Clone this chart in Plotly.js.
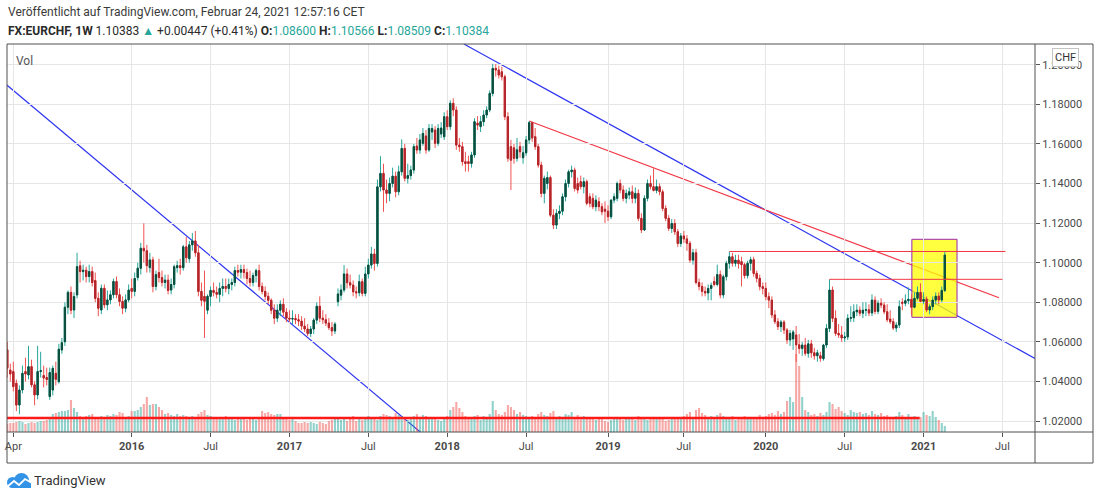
<!DOCTYPE html>
<html><head><meta charset="utf-8">
<script src="https://cdn.plot.ly/plotly-3.0.1.min.js"></script>
<style>html,body{margin:0;padding:0;background:#fff;}#chart{width:1100px;height:499px;}</style>
</head><body><div id="chart"></div>
<script>
// ---- data: weekly EURCHF candles, first bar = week of 2015-03-23 ----
const firstWeek = [2015, 2, 23];
const open = [
1.0560,1.0458,1.0450,1.0391,1.0281,1.0357,1.0450,1.0433,1.0475,1.0383,
1.0332,1.0450,1.0430,1.0420,1.0324,1.0357,1.0441,1.0399,1.0559,1.0601,
1.0775,1.0850,1.0761,1.0837,1.0984,1.0955,1.0962,1.0930,1.0955,1.0910,
1.0820,1.0761,1.0871,1.0787,1.0812,1.0838,1.0905,1.0838,1.0804,1.0770,
1.0812,1.0870,1.0855,1.0925,1.0972,1.1073,1.1060,1.0975,1.1014,1.0880,
1.0950,1.0925,1.0900,1.0912,1.0862,1.0890,1.0975,1.0985,1.0975,1.1080,
1.1020,1.1090,1.1110,1.1050,1.0855,1.0830,1.0760,1.0830,1.0860,1.0850,
1.0840,1.0870,1.0880,1.0870,1.0890,1.0900,1.0960,1.0952,1.0965,1.0950,
1.0920,1.0900,1.0935,1.0960,1.0880,1.0855,1.0830,1.0810,1.0760,1.0720,
1.0760,1.0790,1.0750,1.0720,1.0715,1.0718,1.0712,1.0705,1.0680,1.0665,
1.0642,1.0665,1.0710,1.0780,1.0720,1.0712,1.0695,1.0672,1.0655,1.0803,
1.0836,1.0862,1.0943,1.0899,1.0887,1.0853,1.0848,1.0904,1.0845,1.0943,
1.0988,1.1044,1.0996,1.1383,1.1451,1.1367,1.1350,1.1400,1.1437,1.1358,
1.1459,1.1577,1.1426,1.1440,1.1468,1.1589,1.1569,1.1603,1.1640,1.1569,
1.1660,1.1670,1.1603,1.1650,1.1636,1.1737,1.1687,1.1805,1.1771,1.1594,
1.1586,1.1510,1.1510,1.1501,1.1544,1.1704,1.1687,1.1712,1.1746,1.1771,
1.1855,1.1981,1.1973,1.1964,1.1939,1.1737,1.1586,1.1580,1.1527,1.1586,
1.1530,1.1555,1.1620,1.1707,1.1636,1.1586,1.1493,1.1350,1.1400,1.1430,
1.1240,1.1190,1.1249,1.1260,1.1333,1.1400,1.1459,1.1468,1.1400,1.1409,
1.1384,1.1409,1.1333,1.1325,1.1283,1.1308,1.1283,1.1270,1.1260,1.1232,
1.1316,1.1325,1.1400,1.1367,1.1325,1.1342,1.1358,1.1325,1.1350,1.1224,
1.1165,1.1325,1.1400,1.1384,1.1365,1.1384,1.1358,1.1274,1.1224,1.1173,
1.1198,1.1156,1.1097,1.1135,1.1120,1.1098,1.1013,1.1050,1.0900,1.0880,
1.0855,1.0847,1.0870,1.0905,1.0890,1.0940,1.0837,1.0929,1.0997,1.1030,
1.0997,1.1013,1.1005,1.0990,1.0935,1.0997,1.1015,1.0946,1.0921,1.0879,
1.0870,1.0828,1.0811,1.0736,1.0702,1.0677,1.0700,1.0660,1.0610,1.0615,
1.0635,1.0585,1.0567,1.0584,1.0542,1.0590,1.0545,1.0530,1.0530,1.0515,
1.0584,1.0668,1.0862,1.0719,1.0643,1.0635,1.0620,1.0625,1.0719,1.0722,
1.0752,1.0760,1.0745,1.0760,1.0762,1.0746,1.0811,1.0754,1.0795,1.0786,
1.0752,1.0715,1.0702,1.0670,1.0685,1.0800,1.0795,1.0808,1.0815,1.0775,
1.0820,1.0850,1.0805,1.0815,1.0761,1.0778,1.0811,1.0831,1.0812,1.0860];
const high = [
1.0600,1.0490,1.0500,1.0410,1.0380,1.0480,1.0520,1.0580,1.0510,1.0400,
1.0580,1.0550,1.0480,1.0470,1.0470,1.0480,1.0500,1.0590,1.0620,1.0800,
1.0860,1.0880,1.0850,1.1050,1.1010,1.0990,1.0980,1.0990,1.0980,1.0950,
1.0850,1.0890,1.0890,1.0860,1.0860,1.0920,1.0930,1.0870,1.0830,1.0840,
1.0890,1.0920,1.0950,1.1000,1.1100,1.1199,1.1090,1.1050,1.1030,1.0960,
1.1020,1.0960,1.0940,1.0940,1.0920,1.0990,1.1010,1.1020,1.1090,1.1130,
1.1110,1.1150,1.1160,1.1090,1.0900,1.0960,1.0840,1.0880,1.0900,1.0880,
1.0900,1.0920,1.0920,1.0920,1.0920,1.0980,1.0990,1.0990,1.0990,1.0970,
1.0960,1.0950,1.0970,1.0990,1.0900,1.0880,1.0850,1.0820,1.0790,1.0790,
1.0810,1.0820,1.0770,1.0760,1.0760,1.0740,1.0740,1.0730,1.0720,1.0690,
1.0680,1.0720,1.0800,1.0830,1.0760,1.0740,1.0720,1.0700,1.0700,1.0870,
1.0890,1.0988,1.0970,1.0940,1.0910,1.0880,1.0940,1.0920,1.0980,1.1020,
1.1080,1.1070,1.1420,1.1538,1.1500,1.1420,1.1430,1.1480,1.1460,1.1490,
1.1623,1.1600,1.1500,1.1490,1.1600,1.1630,1.1650,1.1680,1.1670,1.1700,
1.1700,1.1690,1.1700,1.1710,1.1760,1.1770,1.1820,1.1830,1.1790,1.1630,
1.1610,1.1560,1.1540,1.1560,1.1730,1.1740,1.1740,1.1770,1.1790,1.1870,
1.2005,1.2003,1.1995,1.1990,1.1950,1.1760,1.1620,1.1600,1.1630,1.1610,
1.1590,1.1640,1.1715,1.1712,1.1680,1.1600,1.1510,1.1440,1.1460,1.1440,
1.1270,1.1270,1.1290,1.1350,1.1420,1.1470,1.1490,1.1480,1.1430,1.1440,
1.1430,1.1420,1.1350,1.1350,1.1340,1.1330,1.1300,1.1310,1.1290,1.1320,
1.1350,1.1410,1.1420,1.1390,1.1370,1.1380,1.1390,1.1380,1.1370,1.1250,
1.1340,1.1420,1.1440,1.1476,1.1420,1.1400,1.1370,1.1290,1.1240,1.1220,
1.1220,1.1170,1.1150,1.1160,1.1140,1.1110,1.1070,1.1070,1.0920,1.0900,
1.0880,1.0890,1.0900,1.0930,1.0990,1.0960,1.0940,1.1010,1.1056,1.1050,
1.1040,1.1040,1.1030,1.1000,1.1010,1.1030,1.1030,1.0960,1.0940,1.0900,
1.0900,1.0850,1.0830,1.0760,1.0720,1.0710,1.0710,1.0670,1.0660,1.0660,
1.0680,1.0640,1.0600,1.0620,1.0610,1.0610,1.0570,1.0560,1.0550,1.0590,
1.0690,1.0916,1.0880,1.0760,1.0690,1.0680,1.0650,1.0740,1.0780,1.0790,
1.0790,1.0780,1.0800,1.0800,1.0790,1.0840,1.0830,1.0810,1.0820,1.0800,
1.0790,1.0760,1.0720,1.0700,1.0810,1.0820,1.0840,1.0875,1.0840,1.0850,
1.0880,1.0896,1.0850,1.0830,1.0790,1.0830,1.0850,1.0850,1.0880,1.10566];
const low = [
1.0420,1.0400,1.0350,1.0250,1.0235,1.0340,1.0400,1.0410,1.0370,1.0280,
1.0310,1.0420,1.0370,1.0380,1.0307,1.0330,1.0380,1.0390,1.0540,1.0580,
1.0740,1.0740,1.0720,1.0820,1.0900,1.0910,1.0900,1.0900,1.0880,1.0800,
1.0730,1.0740,1.0770,1.0760,1.0790,1.0820,1.0820,1.0780,1.0740,1.0750,
1.0800,1.0820,1.0830,1.0910,1.0940,1.1000,1.0950,1.0950,1.0850,1.0860,
1.0900,1.0880,1.0870,1.0840,1.0840,1.0870,1.0950,1.0940,1.0960,1.1000,
1.1000,1.1060,1.1030,1.0830,1.0780,1.0620,1.0740,1.0780,1.0830,1.0820,
1.0800,1.0830,1.0850,1.0840,1.0860,1.0880,1.0930,1.0920,1.0920,1.0890,
1.0880,1.0880,1.0900,1.0860,1.0840,1.0810,1.0790,1.0740,1.0690,1.0700,
1.0730,1.0730,1.0700,1.0700,1.0690,1.0690,1.0680,1.0660,1.0650,1.0630,
1.0625,1.0640,1.0690,1.0700,1.0690,1.0680,1.0660,1.0630,1.0640,1.0780,
1.0810,1.0850,1.0870,1.0870,1.0830,1.0820,1.0830,1.0830,1.0830,1.0920,
1.0970,1.0960,1.0980,1.1360,1.1257,1.1300,1.1310,1.1380,1.1330,1.1340,
1.1440,1.1410,1.1400,1.1420,1.1450,1.1550,1.1550,1.1590,1.1550,1.1560,
1.1620,1.1580,1.1590,1.1630,1.1620,1.1670,1.1670,1.1740,1.1570,1.1560,
1.1490,1.1460,1.1460,1.1480,1.1530,1.1670,1.1660,1.1690,1.1730,1.1760,
1.1840,1.1940,1.1930,1.1920,1.1720,1.1510,1.1367,1.1500,1.1510,1.1530,
1.1500,1.1540,1.1600,1.1610,1.1570,1.1480,1.1330,1.1300,1.1370,1.1230,
1.1170,1.1170,1.1220,1.1240,1.1310,1.1380,1.1430,1.1360,1.1350,1.1370,
1.1350,1.1290,1.1280,1.1270,1.1260,1.1260,1.1240,1.1200,1.1210,1.1220,
1.1300,1.1310,1.1350,1.1310,1.1300,1.1320,1.1300,1.1300,1.1210,1.1150,
1.1160,1.1310,1.1370,1.1360,1.1350,1.1340,1.1260,1.1210,1.1160,1.1150,
1.1140,1.1080,1.1080,1.1100,1.1060,1.1000,1.0990,1.0890,1.0860,1.0830,
1.0830,1.0810,1.0810,1.0880,1.0880,1.0820,1.0820,1.0910,1.0970,1.0980,
1.0980,1.0970,1.0880,1.0920,1.0920,1.0960,1.0930,1.0900,1.0860,1.0840,
1.0810,1.0770,1.0720,1.0690,1.0660,1.0650,1.0640,1.0590,1.0580,1.0560,
1.0500,1.0540,1.0530,1.0530,1.0520,1.0520,1.0510,1.0500,1.0500,1.0505,
1.0570,1.0650,1.0700,1.0630,1.0620,1.0600,1.0600,1.0610,1.0700,1.0700,
1.0730,1.0730,1.0720,1.0730,1.0730,1.0730,1.0740,1.0740,1.0770,1.0740,
1.0700,1.0690,1.0660,1.0650,1.0670,1.0760,1.0780,1.0790,1.0735,1.0770,
1.0810,1.0800,1.0790,1.0750,1.0740,1.0760,1.0790,1.0790,1.0800,1.08509];
const close = [
1.0467,1.0438,1.0374,1.0281,1.0357,1.0441,1.0438,1.0475,1.0383,1.0332,
1.0450,1.0455,1.0418,1.0410,1.0445,1.0466,1.0411,1.0563,1.0596,1.0775,
1.0850,1.0760,1.0829,1.0980,1.0955,1.0962,1.0930,1.0955,1.0900,1.0820,
1.0770,1.0871,1.0787,1.0812,1.0838,1.0905,1.0838,1.0804,1.0770,1.0812,
1.0862,1.0855,1.0920,1.0972,1.1073,1.1060,1.0985,1.1014,1.0880,1.0940,
1.0925,1.0900,1.0912,1.0860,1.0890,1.0980,1.0985,1.0975,1.1080,1.1025,
1.1090,1.1110,1.1050,1.0855,1.0810,1.0805,1.0830,1.0860,1.0850,1.0840,
1.0870,1.0880,1.0870,1.0890,1.0900,1.0960,1.0952,1.0965,1.0950,1.0920,
1.0900,1.0935,1.0960,1.0880,1.0855,1.0830,1.0810,1.0760,1.0720,1.0760,
1.0790,1.0750,1.0720,1.0715,1.0718,1.0712,1.0705,1.0680,1.0665,1.0642,
1.0665,1.0710,1.0780,1.0720,1.0712,1.0695,1.0672,1.0655,1.0690,1.0842,
1.0862,1.0943,1.0899,1.0887,1.0853,1.0848,1.0904,1.0845,1.0943,1.0988,
1.1044,1.0996,1.1383,1.1451,1.1367,1.1350,1.1400,1.1437,1.1358,1.1459,
1.1577,1.1426,1.1440,1.1468,1.1586,1.1569,1.1620,1.1653,1.1569,1.1678,
1.1678,1.1603,1.1678,1.1680,1.1737,1.1687,1.1805,1.1771,1.1594,1.1586,
1.1510,1.1501,1.1501,1.1544,1.1712,1.1695,1.1712,1.1746,1.1771,1.1855,
1.1981,1.1973,1.1948,1.1939,1.1737,1.1527,1.1518,1.1527,1.1570,1.1560,
1.1555,1.1620,1.1707,1.1630,1.1586,1.1493,1.1350,1.1426,1.1430,1.1240,
1.1190,1.1249,1.1260,1.1333,1.1400,1.1459,1.1468,1.1375,1.1367,1.1384,
1.1409,1.1300,1.1300,1.1283,1.1316,1.1283,1.1257,1.1260,1.1232,1.1316,
1.1333,1.1400,1.1367,1.1325,1.1350,1.1358,1.1325,1.1350,1.1224,1.1165,
1.1325,1.1400,1.1384,1.1365,1.1384,1.1358,1.1274,1.1224,1.1173,1.1198,
1.1156,1.1097,1.1135,1.1120,1.1098,1.1013,1.1050,1.0900,1.0880,1.0855,
1.0847,1.0870,1.0885,1.0890,1.0940,1.0837,1.0929,1.0997,1.1030,1.0997,
1.1013,1.0995,1.0990,1.0935,1.0997,1.1015,1.0946,1.0921,1.0879,1.0870,
1.0828,1.0811,1.0736,1.0702,1.0677,1.0700,1.0660,1.0610,1.0643,1.0650,
1.0585,1.0567,1.0584,1.0542,1.0590,1.0545,1.0530,1.0545,1.0517,1.0584,
1.0668,1.0862,1.0719,1.0643,1.0635,1.0620,1.0625,1.0719,1.0722,1.0752,
1.0760,1.0745,1.0760,1.0762,1.0746,1.0811,1.0754,1.0795,1.0786,1.0752,
1.0712,1.0702,1.0670,1.0685,1.0778,1.0795,1.0808,1.0815,1.0775,1.0820,
1.0850,1.0805,1.0815,1.0761,1.0778,1.0811,1.0831,1.0812,1.0860,1.10384];
const volume = [
8,9,9,10,11,10,8,9,10,9,
10,11,11,12,13,18,19,20,21,21,
22,32,24,20,16,15,16,17,18,15,
14,16,15,17,16,18,17,20,19,14,
16,21,21,22,25,28,35,27,28,28,
25,22,18,19,17,16,18,16,17,16,
15,16,15,18,20,22,17,16,15,14,
14,13,16,15,13,12,14,15,13,12,
14,13,12,14,21,19,20,18,17,18,
18,15,14,12,13,11,9,9,10,9,
10,9,8,10,9,8,11,12,13,14,
12,13,11,14,16,11,13,12,14,16,
15,14,12,16,18,17,16,14,19,17,
16,14,12,15,16,18,15,17,16,14,
15,13,12,11,13,16,22,25,30,24,
20,16,15,14,16,17,12,16,15,18,
31,22,18,17,20,27,25,22,18,20,
17,16,15,16,14,18,20,17,16,19,
21,15,16,14,18,17,20,15,17,14,
16,14,13,15,12,14,13,11,10,12,
15,13,14,12,13,15,14,12,16,13,
14,12,15,13,14,15,13,11,12,14,
13,15,14,16,18,20,15,22,24,19,
17,15,16,14,17,19,16,14,13,16,
12,15,14,16,13,14,15,13,17,14,
16,18,19,17,21,18,20,31,35,30,
78,66,35,22,20,17,18,16,19,17,
20,30,28,23,25,21,19,17,22,20,
19,20,18,19,17,21,18,17,19,16,
17,15,14,16,20,17,15,18,14,16,
13,15,20,17,16,21,15,12,9,6];
const tickDates  = ['2015-04-06','2016-01-04','2016-07-04','2017-01-02','2017-07-03','2018-01-01','2018-07-02','2019-01-07','2019-07-01','2020-01-06','2020-07-06','2021-01-04','2021-07-05'];
const tickLabels = ['Apr','<b>2016</b>','Jul','<b>2017</b>','Jul','<b>2018</b>','Jul','<b>2019</b>','Jul','<b>2020</b>','Jul','<b>2021</b>','Jul'];
const priceTicks = [1.02,1.04,1.06,1.08,1.10,1.12,1.14,1.16,1.18,1.20];
// drawings (anchor points in date / price)
const blueTrendA = {x:['2015-03-22','2017-11-06'], y:[1.18975,1.01333]};
const blueTrendB = {x:['2018-02-08 10:00','2021-09-18'], y:[1.21045,1.05162]};
const redTrend   = {x:['2018-07-09','2021-06-27'], y:[1.17157,1.08232]};
const resistA    = {x:['2019-10-14','2021-07-12'], y:1.10566};
const resistB    = {x:['2020-06-01','2021-07-05'], y:1.0916};
const boxZone    = {x:['2020-12-08','2021-03-22 05:00'], y:[1.07242,1.11182]};
const volLine    = {x:['2015-03-22','2020-12-26'], y:14};

// ---- build ----
const dates = [];
const t0 = Date.UTC(firstWeek[0], firstWeek[1], firstWeek[2]);
for (let i = 0; i < close.length; i++) dates.push(new Date(t0 + i*7*864e5).toISOString().slice(0,10));
const bodyHi = open.map((o,i)=>Math.max(o, close[i]));
const bodyLo = open.map((o,i)=>Math.min(o, close[i]));
const volColors = open.map((o,i)=> close[i] >= o ? 'rgba(38,166,154,0.5)' : 'rgba(239,83,80,0.5)');

const W=1100, H=499, ML=7, MR=65, MT=44, MB=67;
const PW=W-ML-MR, PH=H-MT-MB;
const fx = px => (px-ML)/PW;
const fy = py => (H-MB-py)/PH;

const UP_WICK='#26a69a', UP_BODY='#0b4d3c', DN_WICK='#ef5350', DN_BODY='#b3262b';
const traces = [
  {type:'bar', x:dates, y:volume, yaxis:'y', marker:{color:volColors, line:{width:0}}, hoverinfo:'skip', showlegend:false},
  {type:'candlestick', x:dates, open:open, high:high, low:low, close:close, yaxis:'y2',
   increasing:{line:{color:UP_WICK,width:1}, fillcolor:UP_WICK},
   decreasing:{line:{color:DN_WICK,width:1}, fillcolor:DN_WICK},
   whiskerwidth:0, hoverinfo:'skip', showlegend:false},
  {type:'candlestick', x:dates, open:open, high:bodyHi, low:bodyLo, close:close, yaxis:'y2',
   increasing:{line:{color:UP_BODY,width:1}, fillcolor:UP_BODY},
   decreasing:{line:{color:DN_BODY,width:1}, fillcolor:DN_BODY},
   whiskerwidth:0, hoverinfo:'skip', showlegend:false}
];

const FRAME='#505050', BLUE='#2f36f0', RED='#f23645', LOGO='#3393e6';
const shapes = [
  // slanted trend lines, then the semi-transparent zone over them (all under the candles)
  {type:'line', xref:'x', yref:'y2', x0:blueTrendA.x[0], x1:blueTrendA.x[1], y0:blueTrendA.y[0], y1:blueTrendA.y[1], line:{color:BLUE,width:1.2}, layer:'below'},
  {type:'line', xref:'x', yref:'y2', x0:blueTrendB.x[0], x1:blueTrendB.x[1], y0:blueTrendB.y[0], y1:blueTrendB.y[1], line:{color:BLUE,width:1.2}, layer:'below'},
  {type:'line', xref:'x', yref:'y2', x0:redTrend.x[0], x1:redTrend.x[1], y0:redTrend.y[0], y1:redTrend.y[1], line:{color:RED,width:1.2}, layer:'below'},
  {type:'rect', xref:'x', yref:'y2', x0:boxZone.x[0], x1:boxZone.x[1], y0:boxZone.y[0], y1:boxZone.y[1],
   fillcolor:'rgba(255,255,0,0.75)', line:{color:'#9c27b0', width:1}, layer:'below'},
  // horizontal levels on top
  {type:'line', xref:'x', yref:'y2', x0:resistA.x[0], x1:resistA.x[1], y0:resistA.y, y1:resistA.y, line:{color:RED,width:1}, layer:'above'},
  {type:'line', xref:'x', yref:'y2', x0:resistB.x[0], x1:resistB.x[1], y0:resistB.y, y1:resistB.y, line:{color:RED,width:1}, layer:'above'},
  {type:'line', xref:'x', yref:'y', x0:volLine.x[0], x1:volLine.x[1], y0:volLine.y, y1:volLine.y, line:{color:'#ff1a1a',width:2.6}, layer:'above'},
  // frame
  {type:'rect', xref:'paper', yref:'paper', x0:fx(7), x1:fx(1093), y0:fy(463), y1:fy(44), line:{color:FRAME,width:1}, layer:'above'},
  {type:'line', xref:'paper', yref:'paper', x0:fx(1035), x1:fx(1035), y0:fy(463), y1:fy(44), line:{color:FRAME,width:1}, layer:'above'},
  {type:'line', xref:'paper', yref:'paper', x0:fx(7), x1:fx(1093), y0:fy(432), y1:fy(432), line:{color:FRAME,width:1}, layer:'above'},
  // TradingView logo (cloud + line)
  {type:'circle', xref:'paper', yref:'paper', x0:fx(7), x1:fx(18), y0:fy(488), y1:fy(477), fillcolor:LOGO, line:{width:0}, layer:'above'},
  {type:'circle', xref:'paper', yref:'paper', x0:fx(14), x1:fx(29), y0:fy(488), y1:fy(473), fillcolor:LOGO, line:{width:0}, layer:'above'},
  {type:'rect', xref:'paper', yref:'paper', x0:fx(12), x1:fx(31), y0:fy(488), y1:fy(482), fillcolor:LOGO, line:{width:0}, layer:'above'},
  {type:'path', xref:'paper', yref:'paper', path:`M${fx(7)},${fy(487)} L${fx(14)},${fy(481)} L${fx(19)},${fy(485)} L${fx(25)},${fy(479)} L${fx(32)},${fy(483)}`, line:{color:'#ffffff',width:1.8}, layer:'above'}
];

const T = '#26a69a';
const header2 = `<b>FX:EURCHF, 1W</b> 1.10383 <span style="color:${T}">▲</span> +0.00447 (+0.41%) <b>O:</b><span style="color:${T}">1.08600</span> <b>H:</b><span style="color:${T}">1.10566</span> <b>L:</b><span style="color:${T}">1.08509</span> <b>C:</b><span style="color:${T}">1.10384</span>`;
const FONT = 'Roboto, "Liberation Sans", sans-serif';
const annotations = [
  {xref:'paper', yref:'paper', x:fx(6), y:fy(12), xanchor:'left', yanchor:'middle', showarrow:false,
   text:'Veröffentlicht auf TradingView.com, Februar 24, 2021 12:57:16 CET', font:{family:FONT,size:12,color:'#3a3a3a'}},
  {xref:'paper', yref:'paper', x:fx(6), y:fy(31), xanchor:'left', yanchor:'middle', showarrow:false,
   text:header2, font:{family:FONT,size:12,color:'#2a2a2a'}},
  {xref:'paper', yref:'paper', x:fx(14), y:fy(61), xanchor:'left', yanchor:'middle', showarrow:false,
   text:'Vol', font:{family:FONT,size:12,color:'#555'}},
  {xref:'paper', yref:'paper', x:fx(1065), y:fy(57.5), xanchor:'center', yanchor:'middle', showarrow:false,
   text:'CHF', font:{family:FONT,size:11,color:'#333'}, bgcolor:'#ffffff', bordercolor:'#c4c4c4', borderwidth:1, borderpad:2},
  {xref:'paper', yref:'paper', x:fx(32), y:fy(480), xanchor:'left', yanchor:'middle', showarrow:false,
   text:'TradingView', font:{family:FONT,size:13,color:'#333'}}
];

const layout = {
  width:W, height:H, margin:{l:ML, r:MR, t:MT, b:MB, autoexpand:false},
  paper_bgcolor:'#ffffff', plot_bgcolor:'#ffffff', showlegend:false,
  boxgap:0.4, bargap:0.3, dragmode:false,
  xaxis:{type:'date', range:['2015-03-22 09:00','2021-09-18 02:00'], tickvals:tickDates, ticktext:tickLabels,
    showgrid:true, gridcolor:'#e6e6e6', gridwidth:1, ticks:'outside', ticklen:4, tickcolor:'#555',
    tickfont:{family:FONT,size:11,color:'#4a4a4a'}, zeroline:false, showline:false,
    rangeslider:{visible:false}, fixedrange:true},
  yaxis:{range:[0,388], visible:false, showgrid:false, zeroline:false, fixedrange:true},
  yaxis2:{overlaying:'y', side:'right', range:[1.01449,1.21045], tickvals:priceTicks, ticktext:priceTicks.map(v=>v.toFixed(5)),
    showgrid:true, gridcolor:'#e6e6e6', gridwidth:1, ticks:'outside', ticklen:4, tickcolor:'#555',
    tickfont:{family:FONT,size:11,color:'#4a4a4a'}, zeroline:false, showline:false, fixedrange:true},
  shapes:shapes, annotations:annotations
};
Plotly.newPlot('chart', traces, layout, {displayModeBar:false, staticPlot:true});
</script></body></html>
